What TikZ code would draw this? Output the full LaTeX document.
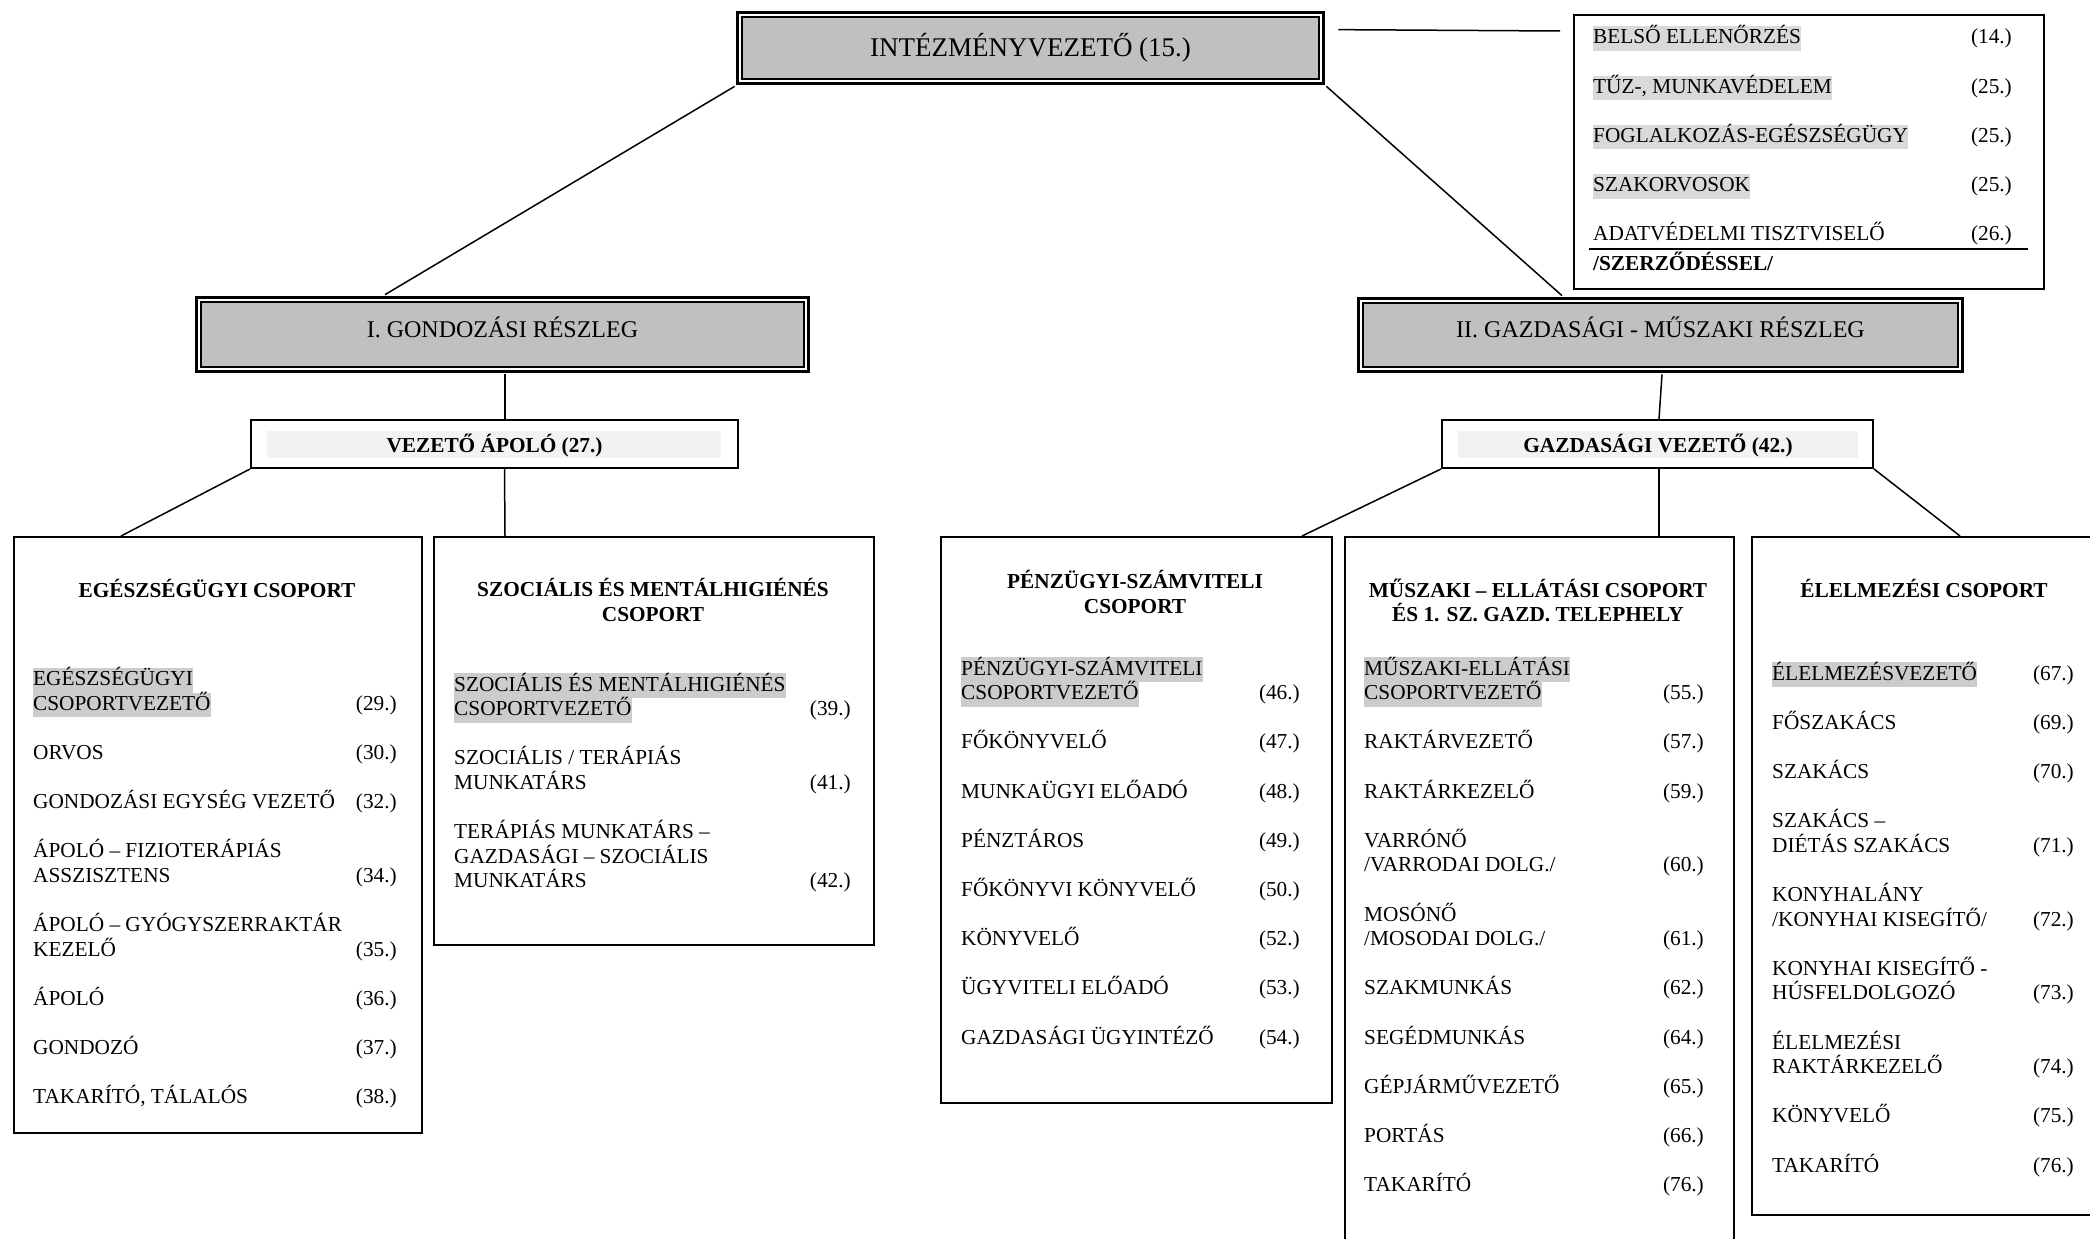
\documentclass[tikz,border=0pt]{standalone}
\usepackage{fontspec}
\setmainfont{Liberation Serif}
\usetikzlibrary{calc}
\definecolor{secgray}{HTML}{C0C0C0}
\definecolor{hlg}{HTML}{CCCCCC}
\definecolor{hlr}{HTML}{D9D9D9}
\definecolor{leadgray}{HTML}{F2F2F2}
\newcommand\itfs{\fontsize{21.3}{24.6}\selectfont}
\newcommand\secfs{\fontsize{24}{28}\selectfont}
\newcommand\topfs{\fontsize{27}{31}\selectfont}
\begin{document}
\begin{tikzpicture}[x=1pt,y=-1pt,
  itm/.style={anchor=base west, inner sep=0pt, font=\itfs},
  hlitm/.style={itm, fill=hlg, text height=17.6pt, text depth=7pt},
  hlritm/.style={itm, fill=hlr, text height=17.6pt, text depth=7pt},
  numr/.style={anchor=base east, inner sep=0pt, font=\itfs},
  gtitle/.style={anchor=base, inner sep=0pt, font=\itfs\bfseries},
  grpbox/.style={draw, line width=2pt, anchor=north west, inner sep=0pt},
  secbox/.style={draw, fill=secgray, double=white, double distance=2pt, line width=2.7pt, inner sep=0pt},
  sectext/.style={anchor=base, inner sep=0pt, font=\secfs},
  leadbox/.style={draw, line width=2pt, inner sep=0pt, minimum height=48pt},
  leadfill/.style={fill=leadgray, inner sep=0pt, minimum height=27pt},
  leadtext/.style={anchor=base, inner sep=0pt, font=\itfs\bfseries},
  conn/.style={line width=1.5pt}
]
\useasboundingbox (0,0) rectangle (2090,1239);
\clip (0,0) rectangle (2090,1239);
\fill[white] (0,0) rectangle (2090,1239);

% ---------- top ----------
\node[secbox, minimum width=581.6pt, minimum height=66.6pt] (top) at (1030.5,48) {};
\node[anchor=base, inner sep=0pt, font=\topfs] (toptxt) at (1030.5,57) {INTÉZMÉNYVEZETŐ (15.)};

% ---------- right box ----------
\node[grpbox, minimum width=470pt, minimum height=274pt] (rbox) at (1573,14) {};
\node[hlritm] (r1) at (1593,44) {BELSŐ ELLENŐRZÉS};
\node[numr] (r1n) at (2012,44) {(14.)};
\node[hlritm] (r2) at (1593,93.2) {TŰZ-, MUNKAVÉDELEM};
\node[numr] (r2n) at (2012,93.2) {(25.)};
\node[hlritm] (r3) at (1593,142.4) {FOGLALKOZÁS-EGÉSZSÉGÜGY};
\node[numr] (r3n) at (2012,142.4) {(25.)};
\node[hlritm] (r4) at (1593,191.6) {SZAKORVOSOK};
\node[numr] (r4n) at (2012,191.6) {(25.)};
\node[itm] (r5) at (1593,240.8) {ADATVÉDELMI TISZTVISELŐ};
\node[numr] (r5n) at (2012,240.8) {(26.)};
\draw[line width=2pt] (1589,249) -- (2028,249);
\node[itm, font=\itfs\bfseries] (r6) at (1593,270) {/SZERZŐDÉSSEL/};

% ---------- sections ----------
\node[secbox, minimum width=607.6pt, minimum height=69.6pt] (gond) at (502.5,334.5) {};
\node[sectext] (gondtxt) at (502.5,337) {I. GONDOZÁSI RÉSZLEG};
\node[secbox, minimum width=599.6pt, minimum height=68.6pt] (gaz) at (1660.5,335) {};
\node[sectext] (gaztxt) at (1660.5,337) {II. GAZDASÁGI - MŰSZAKI RÉSZLEG};

% ---------- lead boxes ----------
\node[leadbox, minimum width=487pt] (va) at (494.5,444) {};
\node[leadfill, minimum width=454pt] (vafill) at (494,444.5) {};
\node[leadtext] (vatxt) at (494.5,452) {VEZETŐ ÁPOLÓ (27.)};
\node[leadbox, minimum width=431pt] (gv) at (1657.5,444) {};
\node[leadfill, minimum width=400pt] (gvfill) at (1658,444.5) {};
\node[leadtext] (gvtxt) at (1658,452) {GAZDASÁGI VEZETŐ (42.)};

% ---------- group boxes ----------
\node[grpbox, minimum width=408pt, minimum height=596pt] (eg) at (13,536) {};
\node[grpbox, minimum width=440pt, minimum height=408pt] (sz) at (433,536) {};
\node[grpbox, minimum width=391pt, minimum height=566pt] (pe) at (940,536) {};
\node[grpbox, minimum width=389pt, minimum height=760pt] (mu) at (1344,536) {};
\node[grpbox, minimum width=400pt, minimum height=678pt] (el) at (1751,536) {};

% ---------- connectors ----------
\draw[conn] ($(top.north east)+(15.7,16.3)$) -- ($(rbox.north west)+(-13,17)$);
\draw[conn] ($(top.south west)+(-3.7,3.7)$) -- ($(gond.north)+(-117.5,-3.7)$);
\draw[conn] ($(top.south east)+(3.7,3.7)$) -- ($(gaz.north)+(-98.5,-3.7)$);
\draw[conn] ($(gond.south)+(2.5,3.7)$) -- ($(va.north)+(10.5,0)$);
\draw[conn] (va.south west) -- ($(eg.north)+(-97,0)$);
\draw[conn] ($(va.south)+(10,0)$) -- ($(sz.north west)+(72,0)$);
\draw[conn] ($(gaz.south)+(1.5,3.7)$) -- ($(gv.north)+(1.5,0)$);
\draw[conn] (gv.south west) -- ($(pe.north east)+(-31,0)$);
\draw[conn] ($(gv.south)+(1.5,0)$) -- ($(mu.north west)+(315,0)$);
\draw[conn] (gv.south east) -- ($(el.north west)+(209,0)$);

% ---------- EGÉSZSÉGÜGYI ----------
\node[gtitle] (egt) at (217,597) {EGÉSZSÉGÜGYI CSOPORT};
\node[hlitm] (e1a) at (33,685.5) {EGÉSZSÉGÜGYI};
\node[hlitm] (e1b) at (33,710.1) {CSOPORTVEZETŐ};
\node[numr] (e1n) at (397,710.1) {(29.)};
\node[itm] (e2) at (33,759.3) {ORVOS};
\node[numr] (e2n) at (397,759.3) {(30.)};
\node[itm] (e3) at (33,808.5) {GONDOZÁSI EGYSÉG VEZETŐ};
\node[numr] (e3n) at (397,808.5) {(32.)};
\node[itm] (e4a) at (33,857.7) {ÁPOLÓ – FIZIOTERÁPIÁS};
\node[itm] (e4b) at (33,882.3) {ASSZISZTENS};
\node[numr] (e4n) at (397,882.3) {(34.)};
\node[itm] (e5a) at (33,931.5) {ÁPOLÓ – GYÓGYSZERRAKTÁR};
\node[itm] (e5b) at (33,956.1) {KEZELŐ};
\node[numr] (e5n) at (397,956.1) {(35.)};
\node[itm] (e6) at (33,1005.3) {ÁPOLÓ};
\node[numr] (e6n) at (397,1005.3) {(36.)};
\node[itm] (e7) at (33,1054.5) {GONDOZÓ};
\node[numr] (e7n) at (397,1054.5) {(37.)};
\node[itm] (e8) at (33,1103.7) {TAKARÍTÓ, TÁLALÓS};
\node[numr] (e8n) at (397,1103.7) {(38.)};

% ---------- SZOCIÁLIS ----------
\node[gtitle] (szt1) at (653,596) {SZOCIÁLIS ÉS MENTÁLHIGIÉNÉS};
\node[gtitle] (szt2) at (653,621) {CSOPORT};
\node[hlitm] (s1a) at (454,691) {SZOCIÁLIS ÉS MENTÁLHIGIÉNÉS};
\node[hlitm] (s1b) at (454,715.6) {CSOPORTVEZETŐ};
\node[numr] (s1n) at (851,715.6) {(39.)};
\node[itm] (s2a) at (454,764.8) {SZOCIÁLIS / TERÁPIÁS};
\node[itm] (s2b) at (454,789.4) {MUNKATÁRS};
\node[numr] (s2n) at (851,789.4) {(41.)};
\node[itm] (s3a) at (454,838.6) {TERÁPIÁS MUNKATÁRS –};
\node[itm] (s3b) at (454,863.2) {GAZDASÁGI – SZOCIÁLIS};
\node[itm] (s3c) at (454,887.8) {MUNKATÁRS};
\node[numr] (s3n) at (851,887.8) {(42.)};

% ---------- PÉNZÜGYI ----------
\node[gtitle] (pet1) at (1135,588) {PÉNZÜGYI-SZÁMVITELI};
\node[gtitle] (pet2) at (1135,613) {CSOPORT};
\node[hlitm] (p1a) at (961,675) {PÉNZÜGYI-SZÁMVITELI};
\node[hlitm] (p1b) at (961,699.6) {CSOPORTVEZETŐ};
\node[numr] (p1n) at (1300,699.6) {(46.)};
\node[itm] (p2) at (961,748.8) {FŐKÖNYVELŐ};
\node[numr] (p2n) at (1300,748.8) {(47.)};
\node[itm] (p3) at (961,798) {MUNKAÜGYI ELŐADÓ};
\node[numr] (p3n) at (1300,798) {(48.)};
\node[itm] (p4) at (961,847.2) {PÉNZTÁROS};
\node[numr] (p4n) at (1300,847.2) {(49.)};
\node[itm] (p5) at (961,896.4) {FŐKÖNYVI KÖNYVELŐ};
\node[numr] (p5n) at (1300,896.4) {(50.)};
\node[itm] (p6) at (961,945.6) {KÖNYVELŐ};
\node[numr] (p6n) at (1300,945.6) {(52.)};
\node[itm] (p7) at (961,994.8) {ÜGYVITELI ELŐADÓ};
\node[numr] (p7n) at (1300,994.8) {(53.)};
\node[itm] (p8) at (961,1044) {GAZDASÁGI ÜGYINTÉZŐ};
\node[numr] (p8n) at (1300,1044) {(54.)};

% ---------- MŰSZAKI ----------
\node[gtitle] (mut1) at (1538,597) {MŰSZAKI – ELLÁTÁSI CSOPORT};
\node[gtitle] (mut2) at (1538,621) {ÉS 1. SZ. GAZD. TELEPHELY};
\node[hlitm] (m1a) at (1364,675) {MŰSZAKI-ELLÁTÁSI};
\node[hlitm] (m1b) at (1364,699.6) {CSOPORTVEZETŐ};
\node[numr] (m1n) at (1704,699.6) {(55.)};
\node[itm] (m2) at (1364,748.8) {RAKTÁRVEZETŐ};
\node[numr] (m2n) at (1704,748.8) {(57.)};
\node[itm] (m3) at (1364,798) {RAKTÁRKEZELŐ};
\node[numr] (m3n) at (1704,798) {(59.)};
\node[itm] (m4a) at (1364,847.2) {VARRÓNŐ};
\node[itm] (m4b) at (1364,871.8) {/VARRODAI DOLG./};
\node[numr] (m4n) at (1704,871.8) {(60.)};
\node[itm] (m5a) at (1364,921) {MOSÓNŐ};
\node[itm] (m5b) at (1364,945.6) {/MOSODAI DOLG./};
\node[numr] (m5n) at (1704,945.6) {(61.)};
\node[itm] (m6) at (1364,994.8) {SZAKMUNKÁS};
\node[numr] (m6n) at (1704,994.8) {(62.)};
\node[itm] (m7) at (1364,1044) {SEGÉDMUNKÁS};
\node[numr] (m7n) at (1704,1044) {(64.)};
\node[itm] (m8) at (1364,1093.2) {GÉPJÁRMŰVEZETŐ};
\node[numr] (m8n) at (1704,1093.2) {(65.)};
\node[itm] (m9) at (1364,1142.4) {PORTÁS};
\node[numr] (m9n) at (1704,1142.4) {(66.)};
\node[itm] (m10) at (1364,1191.6) {TAKARÍTÓ};
\node[numr] (m10n) at (1704,1191.6) {(76.)};

% ---------- ÉLELMEZÉSI ----------
\node[gtitle] (elt) at (1924,597) {ÉLELMEZÉSI CSOPORT};
\node[hlitm] (l1) at (1772,680) {ÉLELMEZÉSVEZETŐ};
\node[numr] (l1n) at (2074,680) {(67.)};
\node[itm] (l2) at (1772,729.2) {FŐSZAKÁCS};
\node[numr] (l2n) at (2074,729.2) {(69.)};
\node[itm] (l3) at (1772,778.4) {SZAKÁCS};
\node[numr] (l3n) at (2074,778.4) {(70.)};
\node[itm] (l4a) at (1772,827.6) {SZAKÁCS –};
\node[itm] (l4b) at (1772,852.2) {DIÉTÁS SZAKÁCS};
\node[numr] (l4n) at (2074,852.2) {(71.)};
\node[itm] (l5a) at (1772,901.4) {KONYHALÁNY};
\node[itm] (l5b) at (1772,926) {/KONYHAI KISEGÍTŐ/};
\node[numr] (l5n) at (2074,926) {(72.)};
\node[itm] (l6a) at (1772,975.2) {KONYHAI KISEGÍTŐ -};
\node[itm] (l6b) at (1772,999.8) {HÚSFELDOLGOZÓ};
\node[numr] (l6n) at (2074,999.8) {(73.)};
\node[itm] (l7a) at (1772,1049) {ÉLELMEZÉSI};
\node[itm] (l7b) at (1772,1073.6) {RAKTÁRKEZELŐ};
\node[numr] (l7n) at (2074,1073.6) {(74.)};
\node[itm] (l8) at (1772,1122.8) {KÖNYVELŐ};
\node[numr] (l8n) at (2074,1122.8) {(75.)};
\node[itm] (l9) at (1772,1172) {TAKARÍTÓ};
\node[numr] (l9n) at (2074,1172) {(76.)};
\end{tikzpicture}
\end{document}
